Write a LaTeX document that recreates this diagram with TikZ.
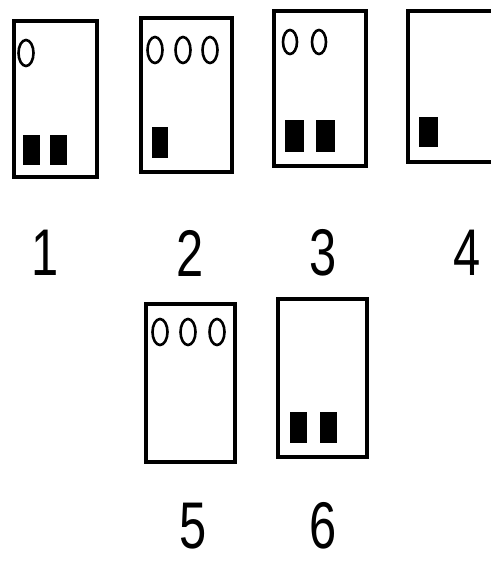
\documentclass[tikz,border=0pt]{standalone}
\usepackage{fontspec}
\setmainfont{Liberation Sans}
\usepackage{tikz}

\begin{document}
\begin{tikzpicture}[x=0.5pt, y=-0.5pt,
    card/.style={draw, line width=2pt},
    hole/.style={draw, line width=1.3pt},
    block/.style={fill=black},
    digit/.style={font=\fontsize{33}{33}\selectfont, inner sep=0pt, xscale=0.74, transform shape}]
    \useasboundingbox (0,0) rectangle (491,563);

    % Top row of cards
    \draw[card] (14,21) rectangle (97,177);
    \draw[hole] (26,53) ellipse [x radius=7.5, y radius=13];
    \foreach \x in {23,50} {
        \fill[block] (\x,135) rectangle (\x+17,165);
    }
    \node[digit] (l1) at (45,253) {1};

    \draw[card] (141,18) rectangle (232,172);
    \foreach \x in {155,183,210} {
        \draw[hole] (\x,50) ellipse [x radius=7.5, y radius=13];
    }
    \fill[block] (152,127) rectangle (168,158);
    \node[digit] (l2) at (190,253) {2};

    \draw[card] (274,11) rectangle (366,166);
    \foreach \x in {290,319} {
        \draw[hole] (\x,42) ellipse [x radius=7, y radius=12];
    }
    \foreach \x in {285,316} {
        \fill[block] (\x,120) rectangle (\x+19,152);
    }
    \node[digit] (l3) at (323,253) {3};

    \draw[card] (408,11) rectangle (497,162);
    \fill[block] (419,117) rectangle (438,147);
    \node[digit] (l4) at (467,253) {4};

    % Bottom row of cards
    \draw[card] (146,304) rectangle (235,462);
    \foreach \x in {160,188,217} {
        \draw[hole] (\x,332) ellipse [x radius=7.5, y radius=13];
    }
    \node[digit] (l5) at (193,526) {5};

    \draw[card] (278,299) rectangle (367,457);
    \foreach \x in {290,320} {
        \fill[block] (\x,412) rectangle (\x+17,443);
    }
    \node[digit] (l6) at (323,526) {6};
\end{tikzpicture}
\end{document}
